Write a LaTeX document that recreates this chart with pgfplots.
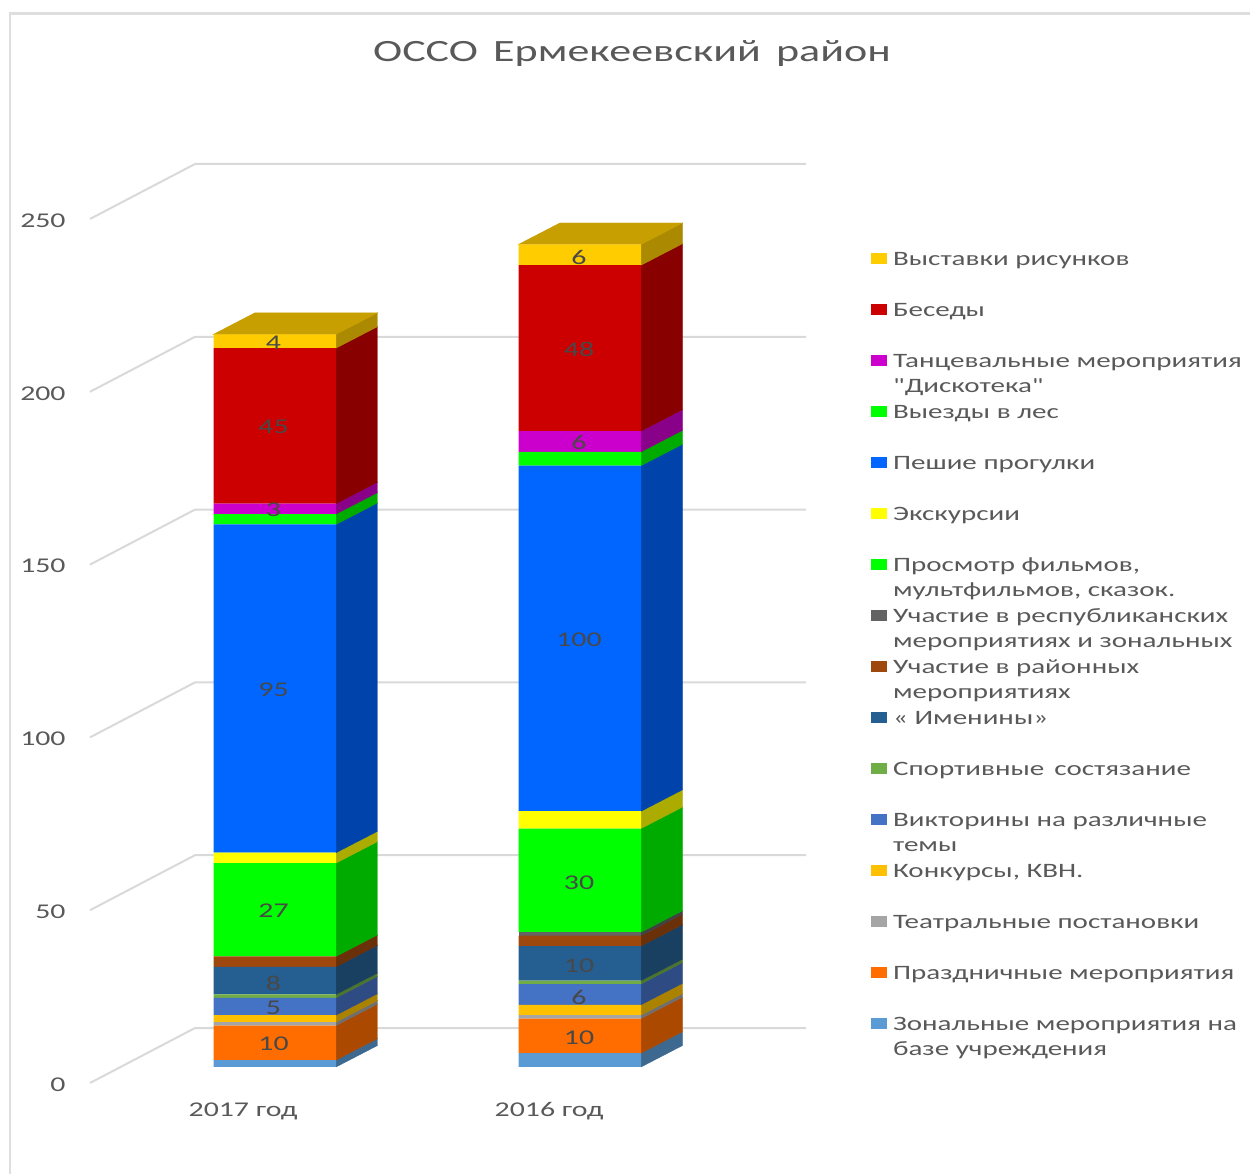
\documentclass[border=0pt]{standalone}
\usepackage{fontspec}
\usepackage{pgfplots}
\pgfplotsset{compat=1.18}
\setmainfont[FakeStretch=1.42, Ligatures=TeXOff]{Carlito}

\definecolor{txt}{HTML}{595959}
\definecolor{lab}{HTML}{484848}
\definecolor{gridc}{HTML}{D9D9D9}
\definecolor{frame}{HTML}{DEDEDE}
\definecolor{czon}{HTML}{5B9BD5}
\definecolor{cpra}{HTML}{FF6D00}
\definecolor{cteat}{HTML}{A5A5A5}
\definecolor{ckon}{HTML}{FFC000}
\definecolor{cvik}{HTML}{4472C4}
\definecolor{cspo}{HTML}{70AD47}
\definecolor{cime}{HTML}{255E91}
\definecolor{cray}{HTML}{9E480E}
\definecolor{cres}{HTML}{636363}
\definecolor{cfil}{HTML}{00FF00}
\definecolor{cexc}{HTML}{FFFF00}
\definecolor{cwal}{HTML}{0066FF}
\definecolor{cles}{HTML}{00FF00}
\definecolor{cdan}{HTML}{CC00CC}
\definecolor{cbes}{HTML}{CC0000}
\definecolor{cvys}{HTML}{FFCC00}

\tikzset{dl/.style={text=lab, inner sep=0pt, yshift=-0.6pt, font=\fontsize{10.5}{12}\selectfont}}

% x is in reference pixels, y in chart units; bars stand 4.63 above the zero line
\pgfplotsset{
  base/.style={
    width=358pt, height=459.5pt, scale only axis,
    xmin=90, xmax=806, ymin=0, ymax=265.91,
    clip=false,
    axis line style={draw=none},
    major tick length=0pt,
  },
}
% side face of one stack segment: x of the right front edge, from, to, colour
\newcommand{\sideface}[4]{%
  \pgfmathsetmacro\xa{#1+41.5}%
  \pgfmathsetmacro\ya{#2+4.63}\pgfmathsetmacro\yb{#3+4.63}%
  \pgfmathsetmacro\yc{#2+4.63+6.22}\pgfmathsetmacro\yd{#3+4.63+6.22}%
  \addplot[fill=#4!67!black, draw=#4!67!black, line width=0.2pt, forget plot]
    coordinates {(#1,\ya) (\xa,\yc) (\xa,\yd) (#1,\yb)} -- cycle;
}
% top of a bar: left front x, right front x, height, colour
\newcommand{\topface}[4]{%
  \pgfmathsetmacro\xa{#1+41.5}\pgfmathsetmacro\xb{#2+41.5}%
  \pgfmathsetmacro\ya{#3+4.63}\pgfmathsetmacro\yb{#3+4.63+6.22}%
  \addplot[fill=#4!78!black, draw=#4!78!black, line width=0.2pt, forget plot]
    coordinates {(#1,\ya) (#2,\ya) (\xb,\yb) (\xa,\yb)} -- cycle;
}
\newcommand{\lt}[1]{\parbox[t]{190pt}{\raggedright\baselineskip=12.6pt #1}}

\begin{document}
\begin{tikzpicture}
\path[use as bounding box] (-45pt,-45.5pt) rectangle (580pt,541.5pt);
\draw[frame, line width=1.2pt] (-40pt,-45.5pt) -- (-40pt,534.75pt) -- (580pt,534.75pt);

\begin{axis}[
  base,
  title={ОССО\, Ермекеевский\, район},
  title style={at={(0.757,1.1075)}, anchor=center, inner sep=0pt, text=txt,
    font=\fontsize{15.5}{18}\selectfont},
  ytick={0,50,100,150,200,250},
  xtick={243,549},
  xticklabels={2017 год,2016 год},
  /pgf/number format/assume math mode=true,
  tick label style={text=txt, font=\fontsize{10.5}{12}\selectfont, inner sep=0pt},
  yticklabel style={anchor=east, xshift=-12pt, yshift=-0.8pt},
  xticklabel style={anchor=north, yshift=-9.5pt},
]
% walls
\addplot[gridc, line width=1pt] coordinates {(90,0) (195,15.91) (806,15.91)};
\addplot[gridc, line width=1pt] coordinates {(90,50) (195,65.91) (806,65.91)};
\addplot[gridc, line width=1pt] coordinates {(90,100) (195,115.91) (806,115.91)};
\addplot[gridc, line width=1pt] coordinates {(90,150) (195,165.91) (806,165.91)};
\addplot[gridc, line width=1pt] coordinates {(90,200) (195,215.91) (806,215.91)};
\addplot[gridc, line width=1pt] coordinates {(90,250) (195,265.91) (806,265.91)};

% 2017 side faces
\sideface{336}{0}{2}{czon}
\sideface{336}{2}{12}{cpra}
\sideface{336}{12}{13}{cteat}
\sideface{336}{13}{15}{ckon}
\sideface{336}{15}{20}{cvik}
\sideface{336}{20}{21}{cspo}
\sideface{336}{21}{29}{cime}
\sideface{336}{29}{32}{cray}
\sideface{336}{32}{59}{cfil}
\sideface{336}{59}{62}{cexc}
\sideface{336}{62}{157}{cwal}
\sideface{336}{157}{160}{cles}
\sideface{336}{160}{163}{cdan}
\sideface{336}{163}{208}{cbes}
\sideface{336}{208}{212}{cvys}
\topface{213.5}{336}{212}{cvys}

% 2016 side faces
\sideface{641}{0}{4}{czon}
\sideface{641}{4}{14}{cpra}
\sideface{641}{14}{15}{cteat}
\sideface{641}{15}{18}{ckon}
\sideface{641}{18}{24}{cvik}
\sideface{641}{24}{25}{cspo}
\sideface{641}{25}{35}{cime}
\sideface{641}{35}{38}{cray}
\sideface{641}{38}{39}{cres}
\sideface{641}{39}{69}{cfil}
\sideface{641}{69}{74}{cexc}
\sideface{641}{74}{174}{cwal}
\sideface{641}{174}{178}{cles}
\sideface{641}{178}{184}{cdan}
\sideface{641}{184}{232}{cbes}
\sideface{641}{232}{238}{cvys}
\topface{518.5}{641}{238}{cvys}
\end{axis}

\begin{axis}[
  base,
  ybar stacked,
  bar width=61.25pt,
  xtick=\empty, ytick=\empty,
  reverse legend,
  legend image code/.code={\path[#1, draw=none] (0pt,0.5pt) rectangle (7.75pt,6pt);},
  legend style={at={(1.0908,0.9108)}, anchor=north west, draw=none, fill=none,
    inner sep=0pt, row sep=0pt, column sep=3.1pt, text=txt,
    font=\fontsize{10.22}{12.6}\selectfont,
    cells={anchor=base west},
    nodes={inner sep=0pt, outer sep=0pt, text height=9.5pt, text depth=16pt}},
]
\addplot[draw=none, fill=none, forget plot] coordinates {(274.75,4.63) (579.75,4.63)};
\addplot[fill=czon, draw=none] coordinates {(274.75,2) (579.75,4)};
\addlegendentry{\lt{Зональные мероприятия на\\базе учреждения}}
\addplot[fill=cpra, draw=none] coordinates {(274.75,10) (579.75,10)};
\addlegendentry{\lt{Праздничные мероприятия}}
\addplot[fill=cteat, draw=none] coordinates {(274.75,1) (579.75,1)};
\addlegendentry{\lt{Театральные постановки}}
\addplot[fill=ckon, draw=none] coordinates {(274.75,2) (579.75,3)};
\addlegendentry{\lt{Конкурсы, КВН.}}
\addplot[fill=cvik, draw=none] coordinates {(274.75,5) (579.75,6)};
\addlegendentry{\lt{Викторины на различные\\темы}}
\addplot[fill=cspo, draw=none] coordinates {(274.75,1) (579.75,1)};
\addlegendentry{\lt{Спортивные\, состязание}}
\addplot[fill=cime, draw=none] coordinates {(274.75,8) (579.75,10)};
\addlegendentry{\lt{« Именины»}}
\addplot[fill=cray, draw=none] coordinates {(274.75,3) (579.75,3)};
\addlegendentry{\lt{Участие в районных\\мероприятиях}}
\addplot[fill=cres, draw=none] coordinates {(274.75,0) (579.75,1)};
\addlegendentry{\lt{Участие в республиканских\\мероприятиях и зональных}}
\addplot[fill=cfil, draw=none] coordinates {(274.75,27) (579.75,30)};
\addlegendentry{\lt{Просмотр фильмов,\\мультфильмов, сказок.}}
\addplot[fill=cexc, draw=none] coordinates {(274.75,3) (579.75,5)};
\addlegendentry{\lt{Экскурсии}}
\addplot[fill=cwal, draw=none] coordinates {(274.75,95) (579.75,100)};
\addlegendentry{\lt{Пешие прогулки}}
\addplot[fill=cles, draw=none] coordinates {(274.75,3) (579.75,4)};
\addlegendentry{\lt{Выезды в лес}}
\addplot[fill=cdan, draw=none] coordinates {(274.75,3) (579.75,6)};
\addlegendentry{\lt{Танцевальные мероприятия\\"Дискотека"}}
\addplot[fill=cbes, draw=none] coordinates {(274.75,45) (579.75,48)};
\addlegendentry{\lt{Беседы}}
\addplot[fill=cvys, draw=none] coordinates {(274.75,4) (579.75,6)};
\addlegendentry{\lt{Выставки рисунков}}
\end{axis}

% data labels go on their own axis so that they stay above the bars
\begin{axis}[
  base,
  xtick=\empty, ytick=\empty,
]
\node[dl] at (axis cs:273.5,214.4) {4};
\node[dl] at (axis cs:273.5,190.1) {45};
\node[dl] at (axis cs:273.5,166.1) {3};
\node[dl] at (axis cs:273.5,114.0) {95};
\node[dl] at (axis cs:273.5,50.1) {27};
\node[dl] at (axis cs:273.5,29.2) {8};
\node[dl] at (axis cs:273.5,22.0) {5};
\node[dl] at (axis cs:273.5,11.6) {10};
\node[dl] at (axis cs:579,239.3) {6};
\node[dl] at (axis cs:579,212.7) {48};
\node[dl] at (axis cs:579,185.8) {6};
\node[dl] at (axis cs:579,128.5) {100};
\node[dl] at (axis cs:579,58.4) {30};
\node[dl] at (axis cs:579,34.4) {10};
\node[dl] at (axis cs:579,25.2) {6};
\node[dl] at (axis cs:579,13.3) {10};
\end{axis}
\end{tikzpicture}
\end{document}
